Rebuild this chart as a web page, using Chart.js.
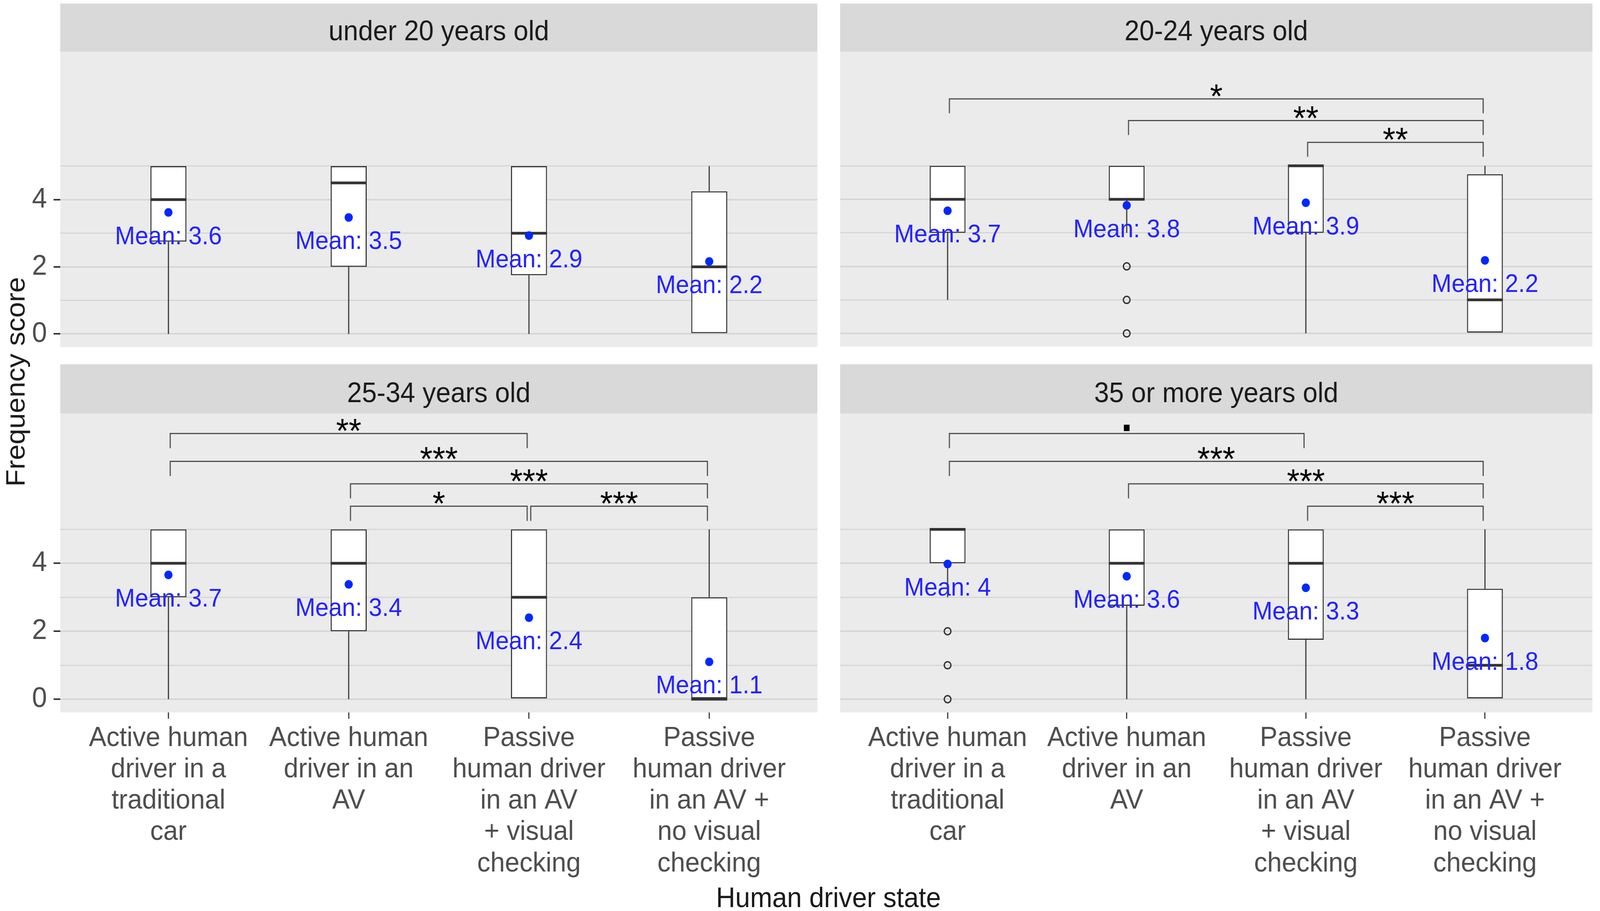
<!DOCTYPE html>
<html>
<head>
<meta charset="utf-8">
<script src="https://cdn.jsdelivr.net/npm/chart.js@4.4.1/dist/chart.umd.min.js"></script>
<style>
  html, body { margin: 0; padding: 0; background: #fff; overflow: hidden; }
  #page { position: absolute; left: 0; top: 0; width: 4328px; height: 2331px; transform-origin: 0 0; font-family: "Liberation Sans", Arial, sans-serif; }
  canvas { position: absolute; }
  .axis-title { position: absolute; color: #1a1a1a; font-size: 72px; line-height: 1; white-space: nowrap; }
  #ytitle { left: 41px; top: 977px; transform: translate(-50%, -50%) rotate(-90deg); }
  #xtitle { left: 2241px; top: 2296px; transform: translate(-50%, -50%); }
</style>
</head>
<body>
<div id="page">
  <canvas id="panel0"></canvas>
  <canvas id="panel1"></canvas>
  <canvas id="panel2"></canvas>
  <canvas id="panel3"></canvas>
  <div id="ytitle" class="axis-title">Frequency score</div>
  <div id="xtitle" class="axis-title">Human driver state</div>
</div>

<script>
// ==================== DONNEES ====================

const categories = [
  'Active human\ndriver in a\ntraditional\ncar',
  'Active human\ndriver in an\nAV',
  'Passive\nhuman driver\nin an AV\n+ visual\nchecking',
  'Passive\nhuman driver\nin an AV +\nno visual\nchecking'
];
const ageGroups = ['under 20 years old', '20-24 years old', '25-34 years old', '35 or more years old'];

// boxplot stats, one row per age group, one value per category
const whiskerLow  = [[0, 0, 0, 0], [1, 3, 0, 0], [0, 0, 0, 0], [3, 0, 0, 0]];
const q1          = [[2.75, 2, 1.75, 0], [3, 4, 3, 0], [3, 2, 0, 0], [4, 2.75, 1.75, 0]];
const medians     = [[4, 4.5, 3, 2], [4, 4, 5, 1], [4, 4, 3, 0], [5, 4, 4, 1]];
const q3          = [[5, 5, 5, 4.25], [5, 5, 5, 4.75], [5, 5, 5, 3], [5, 5, 5, 3.25]];
const whiskerHigh = [[5, 5, 5, 5], [5, 5, 5, 5], [5, 5, 5, 5], [5, 5, 5, 5]];
const means       = [[3.62, 3.47, 2.93, 2.16], [3.66, 3.82, 3.9, 2.18], [3.66, 3.38, 2.4, 1.1], [3.98, 3.62, 3.28, 1.8]];
const outliers    = [[[], [], [], []], [[], [2, 1, 0], [], []], [[], [], [], []], [[2, 1, 0], [], [], []]];

// comparaisons : [groupe A, groupe B, libelle, hauteur]
const brackets = [
  [],
  [[0, 3, '*', 7.0], [1, 3, '**', 6.35], [2, 3, '**', 5.7]],
  [[0, 2, '**', 7.82], [0, 3, '***', 7.0], [1, 3, '***', 6.34], [1, 2, '*', 5.68], [2, 3, '***', 5.68]],
  [[0, 2, '.', 7.82], [0, 3, '***', 7.0], [1, 3, '***', 6.34], [2, 3, '***', 5.68]]
];

const yTicks = [0, 1, 2, 3, 4, 5];

// ==================== MISE EN PAGE ====================

const FONT = '"Liberation Sans", Arial, sans-serif';
const panels = [
  { left: 0,    top: 0,   w: 2222, h: 899,  padTop: 132, stripTop: 9, axisLeft: 163, axisBottom: 0 },
  { left: 2260, top: 0,   w: 2060, h: 899,  padTop: 132, stripTop: 9, axisLeft: 0,   axisBottom: 0 },
  { left: 0,    top: 930, w: 2222, h: 1330, padTop: 128, stripTop: 2, axisLeft: 163, axisBottom: 437 },
  { left: 2260, top: 930, w: 2060, h: 1330, padTop: 128, stripTop: 2, axisLeft: 0,   axisBottom: 437 }
];

// la fenetre peut etre plus petite que 4328 px CSS : on ramene la page a sa taille
const sx = window.innerWidth / 4328;
const sy = window.innerHeight / 2331;
document.getElementById('page').style.transform = 'scale(' + sx + ',' + sy + ')';

function meanLabel(m) {
  return 'Mean: ' + String(Math.round(m * 10) / 10);
}

// ==================== PLUGIN BOXPLOT ====================

const boxExtras = {
  id: 'boxExtras',
  beforeDraw(chart, args, opts) {
    const ctx = chart.ctx, a = chart.chartArea;
    ctx.save();
    ctx.fillStyle = '#d9d9d9';
    ctx.fillRect(a.left, opts.stripTop, a.right - a.left, a.top - opts.stripTop);
    ctx.fillStyle = '#ebebeb';
    ctx.fillRect(a.left, a.top, a.right - a.left, a.bottom - a.top);
    ctx.fillStyle = '#1a1a1a';
    ctx.font = '72px ' + FONT;
    ctx.textAlign = 'center';
    ctx.textBaseline = 'alphabetic';
    ctx.fillText(ageGroups[opts.panel], (a.left + a.right) / 2, a.top - 29);
    ctx.restore();
  },
  beforeDatasetsDraw(chart, args, opts) {
    const p = opts.panel, ctx = chart.ctx;
    const xs = chart.scales.x, ys = chart.scales.y;
    ctx.save();
    ctx.strokeStyle = '#333333';
    ctx.lineWidth = 3;
    categories.forEach((c, i) => {
      const x = xs.getPixelForValue(i);
      ctx.beginPath();
      ctx.moveTo(x, ys.getPixelForValue(whiskerLow[p][i]));
      ctx.lineTo(x, ys.getPixelForValue(q1[p][i]));
      ctx.moveTo(x, ys.getPixelForValue(q3[p][i]));
      ctx.lineTo(x, ys.getPixelForValue(whiskerHigh[p][i]));
      ctx.stroke();
    });
    ctx.restore();
  },
  afterDatasetDraw(chart, args, opts) {
    if (args.meta.type !== 'bar') return;
    const p = opts.panel, ctx = chart.ctx, ys = chart.scales.y;
    ctx.save();
    ctx.strokeStyle = '#333333';
    ctx.lineWidth = 7;
    args.meta.data.forEach((bar, i) => {
      const y = ys.getPixelForValue(medians[p][i]);
      ctx.beginPath();
      ctx.moveTo(bar.x - bar.width / 2, y);
      ctx.lineTo(bar.x + bar.width / 2, y);
      ctx.stroke();
    });
    ctx.restore();
  },
  afterDatasetsDraw(chart, args, opts) {
    const p = opts.panel, ctx = chart.ctx;
    const xs = chart.scales.x, ys = chart.scales.y;
    ctx.save();
    // libelles des moyennes
    ctx.fillStyle = '#2222ff';
    ctx.font = '65px ' + FONT;
    ctx.textAlign = 'center';
    ctx.textBaseline = 'alphabetic';
    means[p].forEach((m, i) => {
      ctx.fillText(meanLabel(m), xs.getPixelForValue(i), ys.getPixelForValue(m) + 81);
    });
    // crochets de significativite
    ctx.strokeStyle = '#4d4d4d';
    ctx.lineWidth = 3;
    ctx.fillStyle = '#000000';
    brackets[p].forEach(([a, b, label, h]) => {
      const xa = xs.getPixelForValue(a + 0.01);
      const xb = xs.getPixelForValue(b - 0.01);
      const y = ys.getPixelForValue(h);
      const yLeg = ys.getPixelForValue(h - 0.43);
      ctx.beginPath();
      ctx.moveTo(xa, yLeg);
      ctx.lineTo(xa, y);
      ctx.lineTo(xb, y);
      ctx.lineTo(xb, yLeg);
      ctx.stroke();
      ctx.font = (label === '.' ? 'bold 110px ' : '88px ') + FONT;
      const m = ctx.measureText(label);
      ctx.fillText(label, (xa + xb) / 2, y - 6 - m.actualBoundingBoxDescent);
    });
    ctx.restore();
  }
};

// ==================== GRAPHIQUES ====================

function creerPanneau(p) {
  const g = panels[p];
  const cv = document.getElementById('panel' + p);
  cv.width = g.w;
  cv.height = g.h;
  cv.style.left = g.left + 'px';
  cv.style.top = g.top + 'px';
  cv.style.width = g.w + 'px';
  cv.style.height = g.h + 'px';

  const showX = g.axisBottom > 0;
  const showY = g.axisLeft > 0;
  const noPadding = s => { s.paddingTop = 0; s.paddingBottom = 0; s.paddingLeft = 0; s.paddingRight = 0; };

  new Chart(cv, {
    type: 'bar',
    data: {
      datasets: [
        {
          type: 'bar',
          label: 'box',
          data: categories.map((c, i) => ({ x: i, y: [q1[p][i], q3[p][i]] })),
          backgroundColor: '#ffffff',
          borderColor: '#333333',
          borderWidth: 3,
          borderSkipped: false,
          barPercentage: 0.2,
          categoryPercentage: 1,
          order: 3
        },
        {
          type: 'scatter',
          label: 'outliers',
          data: outliers[p].flatMap((vals, i) => vals.map(v => ({ x: i, y: v }))),
          pointRadius: 9,
          pointBackgroundColor: 'rgba(0,0,0,0)',
          pointBorderColor: '#333333',
          pointBorderWidth: 3.5,
          order: 2
        },
        {
          type: 'scatter',
          label: 'mean',
          data: means[p].map((m, i) => ({ x: i, y: m })),
          pointRadius: 11,
          pointBackgroundColor: '#0028ff',
          pointBorderWidth: 0,
          order: 1
        }
      ]
    },
    options: {
      responsive: false,
      animation: false,
      layout: { padding: { top: g.padTop, left: 0, right: 0, bottom: 0 } },
      plugins: {
        legend: { display: false },
        tooltip: { enabled: false },
        boxExtras: { panel: p, stripTop: g.stripTop }
      },
      scales: {
        x: {
          type: 'linear',
          min: -0.6,
          max: 3.6,
          offset: false,
          afterBuildTicks: s => { s.ticks = categories.map((c, i) => ({ value: i })); },
          afterFit: s => { s.height = g.axisBottom; noPadding(s); },
          border: { display: false },
          grid: { offset: false, drawOnChartArea: false, drawTicks: showX, tickLength: 16, tickColor: '#333333', tickWidth: 3 },
          ticks: {
            display: showX,
            padding: 10,
            autoSkip: false,
            maxRotation: 0,
            minRotation: 0,
            color: '#4d4d4d',
            font: { family: FONT, size: 71, lineHeight: 1.13 },
            callback: v => categories[v] ? categories[v].split('\n') : ''
          }
        },
        y: {
          min: -0.39,
          max: 8.41,
          afterBuildTicks: s => { s.ticks = yTicks.map(v => ({ value: v })); },
          afterFit: s => { s.width = g.axisLeft; noPadding(s); },
          border: { display: false },
          grid: {
            color: '#d6d6d6',
            lineWidth: c => (c.tick && c.tick.value % 2 === 0 ? 4 : 3),
            drawTicks: showY,
            tickLength: 18,
            tickWidth: 4,
            tickColor: c => (c.tick && c.tick.value % 2 === 0 ? '#333333' : 'rgba(0,0,0,0)')
          },
          ticks: {
            display: showY,
            padding: 18,
            color: '#4d4d4d',
            font: { family: FONT, size: 73 },
            callback: v => (v % 2 === 0 ? String(v) : '')
          }
        }
      }
    },
    plugins: [boxExtras]
  });
}

panels.forEach((g, p) => creerPanneau(p));
</script>
</body>
</html>
